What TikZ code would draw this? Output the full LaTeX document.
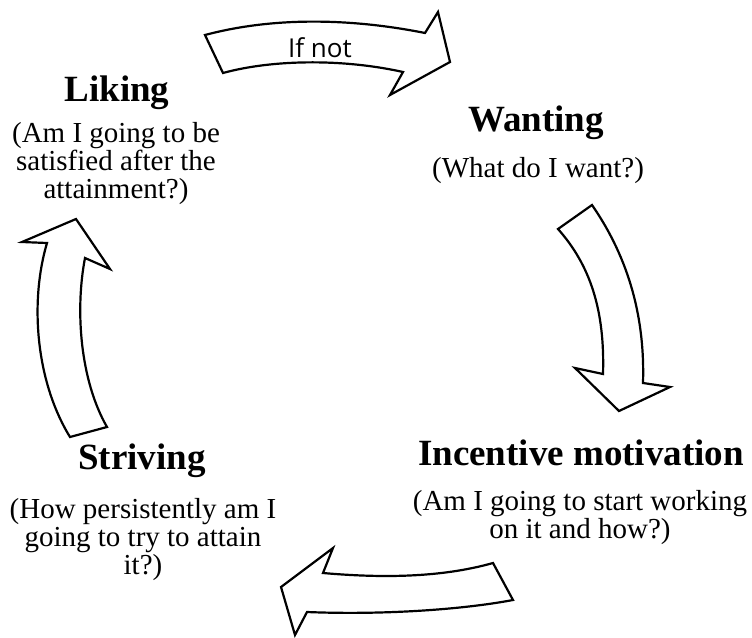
\documentclass[tikz,border=0pt]{standalone}
\usepackage{fontspec}
\setmainfont{Liberation Serif}
\newfontfamily\ifnotfont{Open Sans}
\tikzset{
  title/.style={font=\fontsize{37}{40}\selectfont\bfseries, inner sep=0pt, anchor=base},
  body/.style={font=\fontsize{29}{28}\selectfont, align=center, inner sep=0pt, anchor=base},
  bentarrow/.style={draw=black, line width=2.2pt, fill=white, line join=miter},
}
\begin{document}
\begin{tikzpicture}[x=1pt,y=-1pt]
\useasboundingbox (0,0) rectangle (752,637);
% Nodes (body nodes are placed by the baseline of their last line)
\node[title] (liking) at (117,101) {Liking};
\node[body] (likingq) at (116,198) {(Am I going to be\\satisfied after the\\attainment?)};
\node[title] (wanting) at (536,131) {Wanting};
\node[body] (wantingq) at (538,177) {(What do I want?)};
\node[title] (incentive) at (581,465) {Incentive motivation};
\node[body] (incentiveq) at (580,538) {(Am I going to start working\\on it and how?)};
\node[title] (striving) at (142,469) {Striving};
\node[body] (strivingq) at (143,574) {(How persistently am I\\going to try to attain\\it?)};
% Top arrow "If not"
\draw[bentarrow] (205,35) .. controls (280,15) and (360,20) .. (425,33)
  -- (438,12) -- (450,62) -- (390,95) -- (403,72)
  .. controls (340,58) and (270,60) .. (223,73) -- cycle;
\node[font=\ifnotfont\fontsize{26}{30}\selectfont, inner sep=0pt, anchor=base] (ifnot) at (320,57) {If not};
% Right arrow
\draw[bentarrow] (592,205) .. controls (630,260) and (645,320) .. (643,383)
  -- (670,387) -- (619,411) -- (575,368) -- (603,374)
  .. controls (605,310) and (590,265) .. (558,229) -- cycle;
% Bottom arrow
\draw[bentarrow] (493,563) .. controls (440,578) and (380,578) .. (323,573)
  -- (333,548) -- (281,587) -- (295,635) -- (307,612)
  .. controls (380,615) and (460,610) .. (513,600) -- cycle;
% Left arrow
\draw[bentarrow] (107,427) .. controls (80,380) and (75,310) .. (85,258)
  -- (110,269) -- (76,219) -- (22,242) -- (47,243)
  .. controls (30,300) and (35,380) .. (70,437) -- cycle;
\end{tikzpicture}
\end{document}
